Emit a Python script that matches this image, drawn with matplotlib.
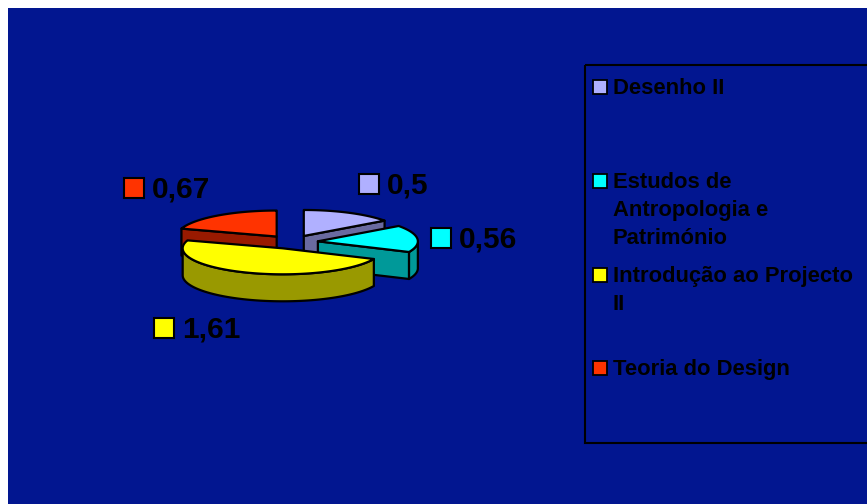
import numpy as np
import matplotlib.pyplot as plt
from matplotlib.patches import Polygon, Rectangle

# --- data -------------------------------------------------------------
subjects = ['Desenho II', 'Estudos de\nAntropologia e\nPatrimónio',
            'Introdução ao Projecto\nII', 'Teoria do Design']
hours = [0.5, 0.56, 1.61, 0.67]
top_colors = ['#B0B0FF', '#00FFFF', '#FFFF00', '#FF3300']
side_colors = ['#6A6AA0', '#009999', '#999900', '#991A00']

# --- layout (pixels) --------------------------------------------------
W, H = 867, 504
BG = '#021690'
cx, cy = 292, 242          # pie centre
rx, ry, depth = 100, 26, 27
explode = 0.26
label_pos = [(359, 194), (431, 248), (154, 338), (124, 198)]  # box left, baseline
legend_base = [94, 188, 282, 375]
FONT = ['Liberation Sans', 'DejaVu Sans']

fig = plt.figure(figsize=(W / 100, H / 100), dpi=100, facecolor='white')
ax = fig.add_axes([0, 0, 1, 1])
ax.set_xlim(0, W)
ax.set_ylim(H, 0)
ax.axis('off')
ax.add_patch(Rectangle((8, 8), W, H, facecolor=BG, edgecolor='none'))


def rim(px, py, th):
    t = np.radians(th)
    return px + rx * np.cos(t), py - ry * np.sin(t)


total = sum(hours)
cum = np.cumsum([0] + hours)
slices = []
for i, v in enumerate(hours):
    t1 = 90 - 360 * cum[i] / total
    t2 = 90 - 360 * cum[i + 1] / total
    mid = np.radians((t1 + t2) / 2)
    px = cx + explode * rx * np.cos(mid)
    py = cy - explode * ry * np.sin(mid)
    slices.append((py, i, t1, t2, px))

edge = dict(edgecolor='black', linewidth=1.6, joinstyle='round')

# paint back to front
for py, i, t1, t2, px in sorted(slices):
    # radial cut faces facing the viewer
    for th, normal in ((t1, t1 + 90), (t2, t2 - 90)):
        if np.sin(np.radians(normal)) < -1e-6:
            x, y = rim(px, py, th)
            quad = [(px, py), (x, y), (x, y + depth), (px, py + depth)]
            ax.add_patch(Polygon(quad, facecolor=side_colors[i], **edge))
    # outer curved side, front half only
    for k in range(-2, 2):
        a, b = max(t2, k * 360 - 180), min(t1, k * 360)
        if a < b:
            th = np.linspace(b, a, 80)
            xs, ys = rim(px, py, th)
            pts = list(zip(xs, ys)) + list(zip(xs[::-1], ys[::-1] + depth))
            ax.add_patch(Polygon(pts, facecolor=side_colors[i], **edge))
    # top face
    th = np.linspace(t1, t2, 120)
    xs, ys = rim(px, py, th)
    pts = [(px, py)] + list(zip(xs, ys))
    ax.add_patch(Polygon(pts, facecolor=top_colors[i], **edge))

# value labels
for i, v in enumerate(hours):
    x, base = label_pos[i]
    ax.add_patch(Rectangle((x, base - 20), 20, 20, facecolor=top_colors[i],
                           edgecolor='black', linewidth=1.5))
    ax.text(x + 28, base, f'{v:g}'.replace('.', ','), family=FONT,
            fontweight='bold', fontsize=21.5, color='black', va='baseline')

# legend
ax.add_patch(Rectangle((585, 65), 320, 378, fill=False, edgecolor='black',
                       linewidth=1.5))
for i, name in enumerate(subjects):
    base = legend_base[i]
    ax.add_patch(Rectangle((593, base - 14), 14, 14, facecolor=top_colors[i],
                           edgecolor='black', linewidth=1.3))
    for j, line in enumerate(name.split('\n')):
        ax.text(613, base + 28 * j, line, family=FONT, fontweight='bold',
                fontsize=15.8, color='black', va='baseline')

fig.savefig('out.png', dpi=100, facecolor=fig.get_facecolor())
